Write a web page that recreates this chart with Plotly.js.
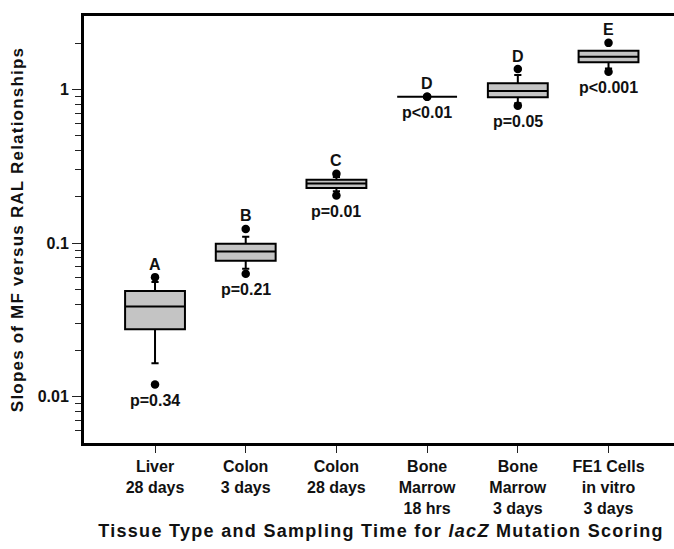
<!DOCTYPE html>
<html>
<head>
<meta charset="utf-8">
<script src="https://cdn.plot.ly/plotly-3.0.1.min.js"></script>
<style>
  html, body { margin: 0; padding: 0; overflow: hidden; background: #fff; }
  #chart { width: 720px; height: 549px; }
  .xtitle { letter-spacing: 1.3px; }
  .ytitle { letter-spacing: 1.2px; }
</style>
</head>
<body>
<div id="chart"></div>
<script>
// Categories (tissue / sampling time)
const categories = [
  "Liver<br>28 days",
  "Colon<br>3 days",
  "Colon<br>28 days",
  "Bone<br>Marrow<br>18 hrs",
  "Bone<br>Marrow<br>3 days",
  "FE1 Cells<br>in vitro<br>3 days"
];
// Box statistics (slopes of MF vs RAL)
const q1Values     = [0.0275, 0.0767, 0.228, 0.895, 0.887, 1.503];
const medianValues = [0.0386, 0.0881, 0.244, 0.895, 0.975, 1.627];
const q3Values     = [0.0487, 0.0988, 0.258, 0.895, 1.094, 1.780];
const lowerWhisker = [0.0165, 0.0680, 0.217, 0.895, 0.811, 1.368];
const upperWhisker = [0.0557, 0.1097, 0.269, 0.895, 1.238, 1.780];
// Outlying points (5th / 95th percentiles)
const upperPoints  = [0.0600, 0.1236, 0.2823, 0.895, 1.354, 2.006];
const lowerPoints  = [0.0120, 0.0631, 0.2040, 0.895, 0.783, 1.301];
// Group letters and p-values
const groupLetters = ["A", "B", "C", "D", "D", "E"];
const pValues      = ["p=0.34", "p=0.21", "p=0.01", "p<0.01", "p=0.05", "p<0.001"];
// Y-axis major ticks
const yTickVals = [0.01, 0.1, 1];
const yTickText = ["0.01", "0.1", "1"];

// minor log ticks (2..9 in each decade within the axis range)
const yMinorVals = [];
[0.001, 0.01, 0.1, 1].forEach(d => {
  for (let k = 2; k <= 9; k++) {
    const v = d * k;
    if (v > 0.005 && v < 3) yMinorVals.push(v);
  }
});

const FONT = "Liberation Sans, Arial, sans-serif";

const boxTrace = {
  type: "box",
  x: categories,
  q1: q1Values,
  median: medianValues,
  q3: q3Values,
  lowerfence: lowerWhisker,
  upperfence: upperWhisker,
  width: 0.66,
  whiskerwidth: 0.12,
  fillcolor: "#c4c4c4",
  line: { color: "#000000", width: 2 },
  boxpoints: false,
  hoverinfo: "skip",
  showlegend: false
};

const upperDots = {
  type: "scatter", mode: "markers",
  x: categories, y: upperPoints,
  marker: { color: "#000", size: 8.5 },
  hoverinfo: "skip", showlegend: false, cliponaxis: false
};
const lowerDots = {
  type: "scatter", mode: "markers",
  x: categories, y: lowerPoints,
  marker: { color: "#000", size: 8.5 },
  hoverinfo: "skip", showlegend: false, cliponaxis: false
};

const annotations = [];
categories.forEach((c, i) => {
  annotations.push({
    x: c, y: Math.log10(upperPoints[i]), xref: "x", yref: "y",
    text: groupLetters[i], showarrow: false, yanchor: "middle", yshift: 13,
    font: { family: FONT, size: 16, weight: "bold", color: "#111" }
  });
  annotations.push({
    x: c, y: Math.log10(lowerPoints[i]), xref: "x", yref: "y",
    text: pValues[i], showarrow: false, yanchor: "middle", yshift: -16,
    font: { family: FONT, size: 16, weight: "bold", color: "#111" }
  });
});

const layout = {
  width: 720, height: 549,
  margin: { l: 84, r: 42, t: 15.5, b: 105.5 },
  paper_bgcolor: "#fff", plot_bgcolor: "#fff",
  font: { family: FONT, size: 16, color: "#111", weight: "bold" },
  showlegend: false,
  xaxis: {
    type: "category",
    range: [-0.783, 5.766],
    showline: true, linewidth: 3, linecolor: "#000", mirror: true,
    showgrid: false, zeroline: false,
    ticks: "outside", ticklen: 7, tickwidth: 1, tickcolor: "#222",
    tickfont: { family: FONT, size: 16, weight: "bold", color: "#111" },
    title: {
      text: "Tissue Type and Sampling Time for <i>lacZ</i> Mutation Scoring",
      font: { family: FONT, size: 18, weight: "bold", color: "#111" },
      standoff: 9
    }
  },
  yaxis: {
    type: "log",
    range: [Math.log10(0.005), Math.log10(3)],
    showline: true, linewidth: 3, linecolor: "#000", mirror: true,
    showgrid: false, zeroline: false,
    tickmode: "array", tickvals: yTickVals, ticktext: yTickText,
    ticks: "outside", ticklen: 9, tickwidth: 1, tickcolor: "#222",
    tickfont: { family: FONT, size: 16, weight: "bold", color: "#111" },
    minor: { tickmode: "array", tickvals: yMinorVals, ticks: "outside", ticklen: 6, tickwidth: 1, tickcolor: "#222", showgrid: false },
    title: {
      text: "Slopes of MF versus RAL Relationships",
      font: { family: FONT, size: 17, weight: "bold", color: "#111" },
      standoff: 10
    }
  },
  annotations: annotations
};

Plotly.newPlot("chart", [boxTrace, upperDots, lowerDots], layout, { displayModeBar: false, staticPlot: true });
</script>
</body>
</html>
